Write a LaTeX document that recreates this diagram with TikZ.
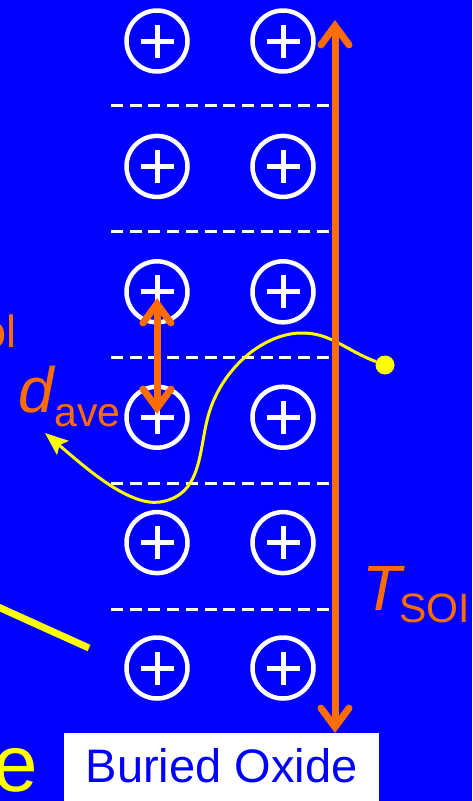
\documentclass[tikz,border=0pt]{standalone}
\usepackage{fontspec}
\setmainfont{Liberation Sans}
\usetikzlibrary{arrows.meta,bending}
\definecolor{bg}{RGB}{0,0,255}
\definecolor{org}{RGB}{255,108,0}
\definecolor{yel}{RGB}{255,255,0}
\tikzset{
  ion/.style={circle, draw=white, line width=4.5pt, minimum size=61pt, inner sep=0pt,
    path picture={\draw[white, line width=5pt] (path picture bounding box.center) +(-16.5pt,0) -- +(16.5pt,0)
      (path picture bounding box.center) +(0,-16.5pt) -- +(0,16.5pt);}},
  sep/.style={draw=white, line width=3.5pt, dash pattern=on 12pt off 6.7pt},
  barb/.tip={Straight Barb[length=19pt, width=28pt, line cap=round, line join=miter]},
  dimarrow/.style={draw=org, line width=7pt, barb-barb},
  path/.style={draw=yel, line width=3pt, -{Stealth[length=23pt, width=18pt, inset=4pt, flex=0]}},
  dot/.style={circle, fill=yel, minimum size=19pt, inner sep=0pt},
  lbl/.style={anchor=base west, inner sep=0pt, outer sep=0pt},
}
\begin{document}
\begin{tikzpicture}[x=1pt, y=-1pt]
\useasboundingbox (0,0) rectangle (472,801);
\clip (0,0) rectangle (472,801);
\fill[bg] (0,0) rectangle (472,801);
% ions
\foreach \r [count=\i] in {41,166.4,291.8,417.2,542.6,668} {
  \node[ion] (a\i) at (157,\r) {};
  \node[ion] (b\i) at (283,\r) {};
}
% separators
\foreach \y [count=\i] in {105.3,231.3,357.3,483.3,609.3} {
  \coordinate (l\i) at (111,\y);
  \coordinate (r\i) at (330,\y);
  \draw[sep] (l\i) -- (r\i);
}
% yellow thick line
\coordinate (ya) at (-4,606);
\coordinate (yb) at (89,648);
\draw[yel, line width=7pt] (ya) -- (yb);
% yellow path
\node[dot] (dot) at (385,365) {};
\coordinate (yend) at (45,433);
\draw[path] (dot) .. controls (345,350) and (330,332) .. (300,333)
  .. controls (265,334) and (225,365) .. (210,410)
  .. controls (198,445) and (205,495) .. (160,502)
  .. controls (125,507) and (75,458) .. (yend);
% orange arrows
\coordinate (ttop) at (335,20);
\coordinate (tbot) at (335,733);
\draw[dimarrow] (ttop) -- (tbot);
\coordinate (dtop) at (157,298);
\coordinate (dbot) at (157,414);
\draw[dimarrow] (dtop) -- (dbot);
% labels
\node[lbl, text=org] (ol) at (-19,347) {\fontsize{45}{45}\selectfont ol};
\node[lbl, text=org] (dave) at (19,412) {\fontsize{64}{64}\selectfont\itshape d\fontsize{41}{41}\selectfont\upshape\raisebox{-14pt}{ave}};
\node[lbl, text=org] (tsoi) at (362,610) {\fontsize{64}{64}\selectfont\itshape T\fontsize{41}{41}\selectfont\upshape\hspace{-2pt}\raisebox{-12pt}{SOI}};
\node[lbl, text=yel] (e) at (-6,791) {\fontsize{80}{80}\selectfont e};
\node[fill=white, anchor=north west, inner xsep=21.6pt, inner ysep=0pt, text height=49pt, text depth=25pt, text=bg] (box) at (64,733) {\fontsize{47}{47}\selectfont Buried Oxide};
\end{tikzpicture}
\end{document}
